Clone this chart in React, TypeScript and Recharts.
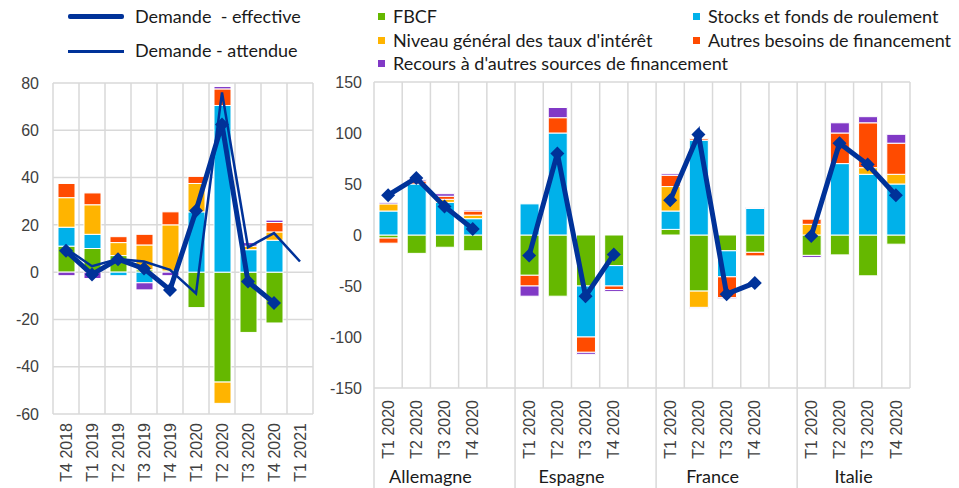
import { ComposedChart, Bar, Line, XAxis, YAxis, CartesianGrid } from "recharts";

// ECB palette
const BLUE = "#003299";
const GREEN = "#65b800";
const LIGHT_BLUE = "#00b1ea";
const YELLOW = "#ffb400";
const ORANGE = "#ff4b00";
const PURPLE = "#8139c6";
const GRID = "#d9d9d9";
const TICK = "#404040";
const NARROW = "'Liberation Sans Narrow', Lato, 'Noto Sans', sans-serif";

// Left panel: euro area, quarterly
const leftCats = ["T4 2018", "T1 2019", "T2 2019", "T3 2019", "T4 2019", "T1 2020", "T2 2020", "T3 2020", "T4 2020", "T1 2021"];
const leftFbcf = [11, 10, 7, 1, 0.5, -15, -46.5, -25.5, -21.5, null];
const leftStocks = [8, 6, -1.5, -4.5, 0, 25.5, 70.5, 9.5, 13.5, null];
const leftTaux = [12.5, 12.5, 5.5, 10.5, 19.5, 12, -9, 1.5, 3.5, null];
const leftAutres = [6, 5, 2.5, 4.5, 5.5, 3, 7, 0, 4, null];
const leftRecours = [-1.5, -2.7, 0, -3, -1.5, 0, 1, 1.5, 1, null];
const leftEffective = [9, -1, 5.5, 1.5, -7.5, 26, 62.5, -4, -13, null];
const leftAttendue = [10, 2.5, 5.5, 4.5, 1, -9, 76, 10.5, 16.5, 4.5];
const leftTicks = [-60, -40, -20, 0, 20, 40, 60, 80];

// Right panel: countries, 2020
const countries = ["Allemagne", "Espagne", "France", "Italie"];
const quarters = ["T1 2020", "T2 2020", "T3 2020", "T4 2020"];
const rightFbcf = [[-3, -18, -12, -15.5], [-39.5, -60, -50, -30], [5.5, -55, -15.5, -17], [-20, -19.5, -40, -9]];
const rightStocks = [[23.5, 50, 32, 16], [30.5, 100, -50, -20], [18, 93, -25.5, 26], [0, 70, 59.5, 50]];
const rightTaux = [[7, 0, 3, 3.5], [0, 0, 0, 0], [24, -16, 0, 0], [10.5, 0, 6.5, 9.5]];
const rightAutres = [[-5, 3, 3, 4], [-10.5, 15, -15, -3.5], [11, 1.5, -20.5, -3.5], [5, 30, 44, 30.5]];
const rightRecours = [[1.5, 1.5, 2.5, 1], [-10, 10, -2, -2], [1.5, -1, -1, 1], [-2, 10, 6, 8.7]];
const rightEffective = [[39, 56, 28, 6], [-20, 80, -60, -19], [34, 98.5, -58, -47], [-1, 90, 69, 39]];
const rightTicks = [-150, -100, -50, 0, 50, 100, 150];

const seriesDefs = [
  { key: "fbcf", name: "FBCF", color: GREEN },
  { key: "stocks", name: "Stocks et fonds de roulement", color: LIGHT_BLUE },
  { key: "taux", name: "Niveau général des taux d'intérêt", color: YELLOW },
  { key: "autres", name: "Autres besoins de financement", color: ORANGE },
  { key: "recours", name: "Recours à d'autres sources de financement", color: PURPLE },
];

const leftData = leftCats.map((cat, i) => ({
  id: cat,
  fbcf: leftFbcf[i],
  stocks: leftStocks[i],
  taux: leftTaux[i],
  autres: leftAutres[i],
  recours: leftRecours[i],
  effective: leftEffective[i],
  attendue: leftAttendue[i],
}));

type Row = { id: string; country: string; quarter: string; [k: string]: any };
const rightData: Row[] = [];
countries.forEach((c, ci) => {
  if (ci > 0) rightData.push({ id: `gap${ci}`, country: "", quarter: "", effective: null });
  quarters.forEach((q, qi) => {
    rightData.push({
      id: `${c}|${q}`,
      country: c,
      quarter: q,
      fbcf: rightFbcf[ci][qi],
      stocks: rightStocks[ci][qi],
      taux: rightTaux[ci][qi],
      autres: rightAutres[ci][qi],
      recours: rightRecours[ci][qi],
      effective: rightEffective[ci][qi],
    });
  });
});

const RIGHT_W = 629;
const RIGHT_YW_L = 44;
const RIGHT_YW_R = 49;
const rightBand = (RIGHT_W - RIGHT_YW_L - RIGHT_YW_R) / rightData.length;

const Diamond = (props: any) => {
  const { cx, cy, index, value } = props;
  if (value == null || cx == null || cy == null) return <g key={`n${index}`} />;
  return <path key={`d${index}`} d={`M${cx},${cy - 7}L${cx + 7},${cy}L${cx},${cy + 7}L${cx - 7},${cy}Z`} fill={BLUE} />;
};

const bandGrid = (n: number) => ({ offset }: any) =>
  Array.from({ length: n + 1 }, (_, i) => offset.left + (i * offset.width) / n);

const LeftTick = ({ x, y, payload }: any) => (
  <text
    transform={`translate(${x},${y + 9}) rotate(-90)`}
    textAnchor="end"
    dy="0.35em"
    fontSize={16}
    fill={TICK}
    fontFamily="'Liberation Sans', Arial, sans-serif"
  >
    {payload.value}
  </text>
);

const RightTick = ({ x, y, payload }: any) => {
  const row = rightData.find((r) => r.id === payload.value);
  if (!row) return <g />;
  const isFirst = rightData[0].id === row.id;
  const isGap = row.id.startsWith("gap");
  const qi = quarters.indexOf(row.quarter);
  return (
    <g>
      {isFirst && <line x1={x - rightBand / 2} x2={x - rightBand / 2} y1={y} y2={y + 100} stroke={GRID} strokeWidth={1.5} />}
      {isGap && <line x1={x + rightBand / 2} x2={x + rightBand / 2} y1={y} y2={y + 100} stroke={GRID} strokeWidth={1.5} />}
      {row.quarter && (
        <text
          transform={`translate(${x},${y + 12}) rotate(-90)`}
          textAnchor="end"
          dy="0.35em"
          fontSize={16}
          fill={TICK}
          fontFamily="'Liberation Sans', Arial, sans-serif"
        >
          {row.quarter}
        </text>
      )}
      {qi === 1 && (
        <text x={x + rightBand / 2} y={y + 95} textAnchor="middle" fontSize={18} fill="#1a1a1a" fontFamily={NARROW}>
          {row.country}
        </text>
      )}
    </g>
  );
};

const tickStyle = { fontSize: 16, fill: TICK, fontFamily: "'Liberation Sans', Arial, sans-serif" };

const Legend = () => (
  <div style={{ position: "absolute", left: 0, top: 0, width: 959, height: 80, fontFamily: NARROW, fontSize: 18, color: "#1a1a1a" }}>
    <div style={{ position: "absolute", left: 68, top: 14, width: 56, height: 5, background: BLUE, borderRadius: 2 }} />
    <div style={{ position: "absolute", left: 135, top: 5, lineHeight: "22px" }}>Demande&nbsp; - effective</div>
    <div style={{ position: "absolute", left: 68, top: 50, width: 56, height: 2.5, background: BLUE }} />
    <div style={{ position: "absolute", left: 135, top: 39, lineHeight: "22px" }}>Demande - attendue</div>
    {[
      { s: seriesDefs[0], x: 378, y: 16 },
      { s: seriesDefs[1], x: 693, y: 16 },
      { s: seriesDefs[2], x: 378, y: 40 },
      { s: seriesDefs[3], x: 693, y: 40 },
      { s: seriesDefs[4], x: 378, y: 63 },
    ].map(({ s, x, y }) => (
      <div key={s.key}>
        <div style={{ position: "absolute", left: x, top: y - 3, width: 7, height: 7, background: s.color }} />
        <div style={{ position: "absolute", left: x + 15, top: y - 11, lineHeight: "22px", whiteSpace: "nowrap" }}>{s.name}</div>
      </div>
    ))}
  </div>
);

export default function App() {
  return (
    <div style={{ position: "absolute", left: 0, top: 0, width: 959, height: 488, background: "#fff", overflow: "hidden" }}>
      <Legend />
      <div style={{ position: "absolute", left: 0, top: 0 }}>
        <ComposedChart width={330} height={488} data={leftData} stackOffset="sign" margin={{ top: 83, right: 17, bottom: 0, left: 0 }}>
          <CartesianGrid stroke={GRID} strokeWidth={1.5} verticalCoordinatesGenerator={bandGrid(leftData.length)} />
          <XAxis dataKey="id" height={74} interval={0} axisLine={false} tickLine={false} tickSize={0} tickMargin={0} tick={<LeftTick />} />
          <YAxis domain={[-60, 80]} ticks={leftTicks} width={53} axisLine={false} tickLine={false} tickSize={0} tickMargin={14} tick={tickStyle} />
          {seriesDefs.map((s) => (
            <Bar key={s.key} dataKey={s.key} stackId="a" fill={s.color} stroke="#fff" strokeWidth={1} barSize={17} isAnimationActive={false} />
          ))}
          <Line dataKey="attendue" stroke={BLUE} strokeWidth={2.5} dot={false} isAnimationActive={false} />
          <Line dataKey="effective" stroke={BLUE} strokeWidth={5} dot={Diamond} activeDot={false} isAnimationActive={false} />
        </ComposedChart>
      </div>
      <div style={{ position: "absolute", left: 330, top: 0 }}>
        <ComposedChart width={RIGHT_W} height={488} data={rightData} stackOffset="sign" margin={{ top: 82, right: 0, bottom: 0, left: 0 }}>
          <CartesianGrid stroke={GRID} strokeWidth={1.5} verticalCoordinatesGenerator={bandGrid(rightData.length)} />
          <XAxis dataKey="id" height={100} interval={0} axisLine={false} tickLine={false} tickSize={0} tickMargin={0} tick={<RightTick />} />
          <YAxis yAxisId="l" domain={[-150, 150]} ticks={rightTicks} width={RIGHT_YW_L} axisLine={false} tickLine={false} tickSize={0} tickMargin={12} tick={tickStyle} />
          <YAxis yAxisId="r" orientation="right" domain={[-150, 150]} ticks={rightTicks} width={RIGHT_YW_R} axisLine={false} tickLine={false} tickSize={0} tickMargin={15} tick={tickStyle} />
          {seriesDefs.map((s) => (
            <Bar key={s.key} yAxisId="l" dataKey={s.key} stackId="a" fill={s.color} stroke="#fff" strokeWidth={1} barSize={19} isAnimationActive={false} />
          ))}
          <Line yAxisId="l" dataKey="effective" stroke={BLUE} strokeWidth={5} dot={Diamond} activeDot={false} isAnimationActive={false} />
        </ComposedChart>
      </div>
    </div>
  );
}
